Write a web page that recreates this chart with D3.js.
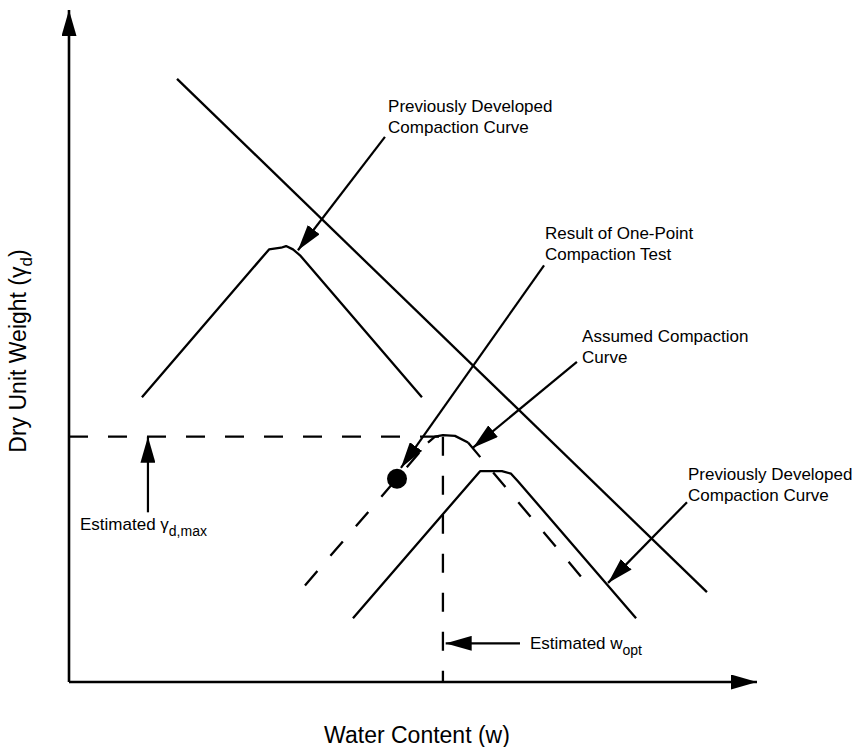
<!DOCTYPE html>
<html>
<head>
<meta charset="utf-8">
<script src="https://cdn.jsdelivr.net/npm/d3@7"></script>
<style>
  body { margin: 0; background: #fff; }
  svg { display: block; }
  text { font-family: "Liberation Sans", Arial, sans-serif; fill: #000; }
</style>
</head>
<body>
<svg id="chart" width="863" height="747"></svg>
<script>
// DATA (water content w in %, dry unit weight g in kN/m3)

const developedCurveUpper = [
  { w: 4.24, g: 17.39 },
  { w: 11.63, g: 19.15 },
  { w: 12.33, g: 19.17 },
  { w: 12.62, g: 19.19 },
  { w: 13.02, g: 19.15 },
  { w: 13.43, g: 19.08 },
  { w: 20.52, g: 17.39 },
];

const developedCurveLower = [
  { w: 16.51, g: 14.76 },
  { w: 23.9, g: 16.51 },
  { w: 25.17, g: 16.51 },
  { w: 25.7, g: 16.48 },
  { w: 26.1, g: 16.39 },
  { w: 32.97, g: 14.76 },
];

const assumedCurveLeft = [
  { w: 13.72, g: 15.15 },
  { w: 20.87, g: 16.85 },
];

const assumedCurveTop = [
  { w: 20.87, g: 16.85 },
  { w: 21.28, g: 16.92 },
  { w: 21.74, g: 16.94 },
  { w: 22.44, g: 16.93 },
  { w: 23.2, g: 16.85 },
];

const assumedCurveRight = [
  { w: 23.2, g: 16.85 },
  { w: 30.2, g: 15.15 },
];

const saturationLine = [
  { w: 6.28, g: 21.18 },
  { w: 37.09, g: 15.07 },
];

const onePointTest = [{ w: 19.07, g: 16.42 }];

const gammaDMax = 16.92;
const wOpt = 21.74;

const labelPrevUpper = ["Previously Developed", "Compaction Curve"];
const labelOnePoint = ["Result of One-Point", "Compaction Test"];
const labelAssumed = ["Assumed Compaction", "Curve"];
const labelPrevLower = ["Previously Developed", "Compaction Curve"];

// CANVAS SETUP
const svg = d3.select("#chart");

const x = d3.scaleLinear().domain([0, 40]).range([69, 757]);
const y = d3.scaleLinear().domain([14, 22]).range([682, 10]);

const line = d3
  .line()
  .x((d) => x(d.w))
  .y((d) => y(d.g));

svg
  .append("defs")
  .append("marker")
  .attr("id", "head")
  .attr("viewBox", "0 -7.5 26 15")
  .attr("refX", 26)
  .attr("refY", 0)
  .attr("markerWidth", 26)
  .attr("markerHeight", 15)
  .attr("markerUnits", "userSpaceOnUse")
  .attr("orient", "auto")
  .append("path")
  .attr("d", "M0,-7.5L26,0L0,7.5Z")
  .attr("fill", "#000");

// AXES
const [w0, w1] = x.domain();
const [g0, g1] = y.domain();

svg
  .append("line")
  .attr("x1", x(w0))
  .attr("y1", y(g0))
  .attr("x2", x(w1))
  .attr("y2", y(g0))
  .attr("stroke", "#000")
  .attr("stroke-width", 2.6)
  .attr("marker-end", "url(#head)");

svg
  .append("line")
  .attr("x1", x(w0))
  .attr("y1", y(g0))
  .attr("x2", x(w0))
  .attr("y2", y(g1))
  .attr("stroke", "#000")
  .attr("stroke-width", 2.6)
  .attr("marker-end", "url(#head)");

svg
  .append("text")
  .attr("x", 417)
  .attr("y", 743)
  .attr("text-anchor", "middle")
  .attr("font-size", 23)
  .text("Water Content (w)");

const yLabel = svg
  .append("text")
  .attr("transform", "translate(26,351) rotate(-90)")
  .attr("text-anchor", "middle")
  .attr("font-size", 23);
yLabel.append("tspan").text("Dry Unit Weight (γ");
yLabel.append("tspan").attr("dy", 6).attr("font-size", 17).text("d");
yLabel.append("tspan").attr("dy", -6).text(")");

// CURVES
const solid = [developedCurveUpper, developedCurveLower, saturationLine, assumedCurveTop];

svg
  .append("g")
  .selectAll("path")
  .data(solid)
  .join("path")
  .attr("d", line)
  .attr("fill", "none")
  .attr("stroke", "#000")
  .attr("stroke-width", 2.3)
  .attr("stroke-linejoin", "round");

svg
  .append("g")
  .selectAll("path")
  .data([assumedCurveLeft, assumedCurveRight])
  .join("path")
  .attr("d", line)
  .attr("fill", "none")
  .attr("stroke", "#000")
  .attr("stroke-width", 2.3)
  .attr("stroke-dasharray", "19,20");

// ESTIMATE GUIDES
svg
  .append("line")
  .attr("x1", x(w0))
  .attr("y1", y(gammaDMax))
  .attr("x2", x(wOpt))
  .attr("y2", y(gammaDMax))
  .attr("stroke", "#000")
  .attr("stroke-width", 2.3)
  .attr("stroke-dasharray", "19,20");

svg
  .append("line")
  .attr("x1", x(wOpt))
  .attr("y1", y(gammaDMax))
  .attr("x2", x(wOpt))
  .attr("y2", y(g0))
  .attr("stroke", "#000")
  .attr("stroke-width", 2.3)
  .attr("stroke-dasharray", "19,20");

svg
  .append("g")
  .selectAll("circle")
  .data(onePointTest)
  .join("circle")
  .attr("cx", (d) => x(d.w))
  .attr("cy", (d) => y(d.g))
  .attr("r", 10)
  .attr("fill", "#000");

// ANNOTATIONS
const annotations = [
  { lines: labelPrevUpper, at: [18.55, 20.79], from: [18.37, 20.49], to: [13.31, 19.14] },
  { lines: labelOnePoint, at: [27.67, 19.27], from: [27.62, 18.96], to: [19.3, 16.55] },
  { lines: labelAssumed, at: [29.83, 18.05], from: [29.53, 17.81], to: [23.49, 16.79] },
  { lines: labelPrevLower, at: [35.99, 16.4], from: [35.93, 16.14], to: [31.34, 15.18] },
  { lines: null, from: [4.59, 16.02], to: [4.59, gammaDMax] },
  { lines: null, from: [26.22, 14.46], to: [wOpt + 0.16, 14.46] },
];

svg
  .append("g")
  .selectAll("line")
  .data(annotations)
  .join("line")
  .attr("x1", (d) => x(d.from[0]))
  .attr("y1", (d) => y(d.from[1]))
  .attr("x2", (d) => x(d.to[0]))
  .attr("y2", (d) => y(d.to[1]))
  .attr("stroke", "#000")
  .attr("stroke-width", 2.2)
  .attr("marker-end", "url(#head)");

svg
  .append("g")
  .selectAll("text")
  .data(annotations.filter((d) => d.lines))
  .join("text")
  .attr("font-size", 17)
  .attr("x", (d) => x(d.at[0]))
  .attr("y", (d) => y(d.at[1]))
  .selectAll("tspan")
  .data((d) => d.lines.map((t, i) => ({ t, i, x: x(d.at[0]) })))
  .join("tspan")
  .attr("x", (d) => d.x)
  .attr("dy", (d) => (d.i ? 21 : 0))
  .text((d) => d.t);

const gLabel = svg
  .append("text")
  .attr("x", x(0.64))
  .attr("y", y(15.81))
  .attr("font-size", 17);
gLabel.append("tspan").text("Estimated γ");
gLabel.append("tspan").attr("dy", 6).attr("font-size", 14).text("d,max");

const wLabel = svg
  .append("text")
  .attr("x", x(26.8))
  .attr("y", y(14.39))
  .attr("font-size", 17);
wLabel.append("tspan").text("Estimated w");
wLabel.append("tspan").attr("dy", 6).attr("font-size", 14).text("opt");
</script>
</body>
</html>
